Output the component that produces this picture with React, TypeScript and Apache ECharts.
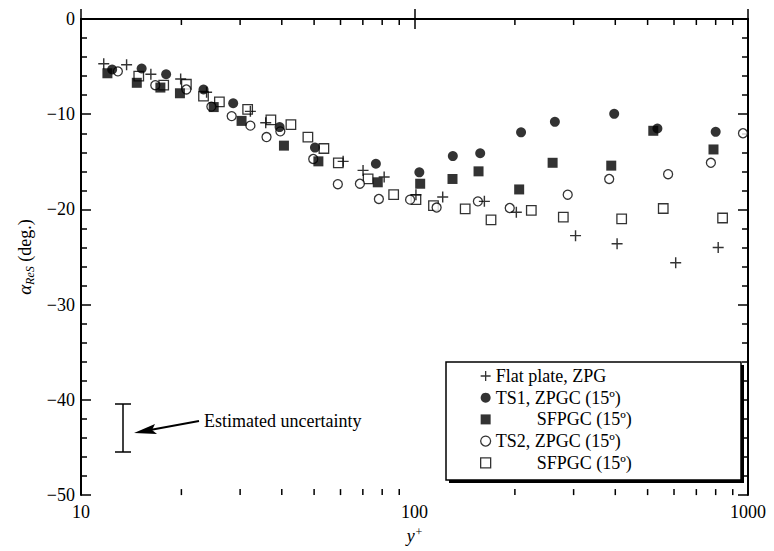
import React, { useEffect, useRef } from 'react';
import * as echarts from 'echarts';

// ---- data (y+ , alpha_ReS in degrees) ----
const flatPlateX = [11.7, 13.7, 16.2, 19.9, 23.8, 32.2, 35.8, 61.1, 70.1, 81.1, 101, 121.5, 162, 202, 304, 405, 607, 814];
const flatPlateY = [-4.7, -4.8, -5.8, -6.3, -7.7, -9.7, -10.9, -14.95, -15.9, -16.6, -18.45, -18.7, -19.15, -20.3, -22.75, -23.6, -25.6, -24.0];

const ts1ZpgcX = [12.4, 15.2, 18.0, 23.3, 28.6, 39.4, 50.3, 76.6, 103.4, 130.3, 157.4, 208.7, 263.6, 397, 535, 800];
const ts1ZpgcY = [-5.3, -5.2, -5.8, -7.4, -8.85, -11.35, -13.5, -15.2, -16.1, -14.4, -14.1, -11.9, -10.8, -9.96, -11.5, -11.85];

const ts1SfpgcX = [12.0, 14.7, 17.3, 19.8, 25.0, 30.3, 40.6, 51.5, 77.6, 104, 130, 155.6, 206, 259.5, 389, 520, 788];
const ts1SfpgcY = [-5.7, -6.7, -7.2, -7.8, -9.25, -10.7, -13.3, -14.95, -17.15, -17.3, -16.8, -16.0, -17.9, -15.1, -15.4, -11.74, -13.7];

const ts2ZpgcX = [12.9, 16.7, 20.7, 24.6, 28.3, 32.2, 36.0, 39.6, 49.7, 58.9, 68.6, 78.2, 97.0, 116.5, 154.9, 193, 288, 383.5, 576, 774, 966];
const ts2ZpgcY = [-5.5, -6.95, -7.4, -9.2, -10.2, -11.2, -12.4, -11.8, -14.7, -17.35, -17.3, -18.9, -18.97, -19.8, -19.15, -19.85, -18.45, -16.8, -16.3, -15.1, -12.0];

const ts2SfpgcX = [14.9, 17.7, 20.7, 23.3, 26.0, 31.6, 37.1, 42.6, 47.9, 53.5, 59.1, 72.6, 86.6, 101, 114, 141.9, 169.6, 224, 279.4, 418, 557, 839];
const ts2SfpgcY = [-6.0, -6.95, -6.85, -8.1, -8.7, -9.5, -10.6, -11.1, -12.4, -13.6, -15.1, -16.8, -18.45, -18.97, -19.6, -19.95, -21.1, -20.1, -20.8, -21.0, -19.9, -20.9];

// axis ticks
const xMin = 10;
const xMax = 1000;
const xMinorTicks = [20, 30, 40, 50, 60, 70, 80, 90, 200, 300, 400, 500, 600, 700, 800, 900];
const yMin = -50;
const yMax = 0;
const yInterval = 10;

const seriesNames = ['Flat plate, ZPG', 'TS1, ZPGC (15º)', 'TS1 SFPGC (15º)', 'TS2, ZPGC (15º)', 'TS2 SFPGC (15º)'];

const FONT = '"Liberation Serif", "Times New Roman", Times, serif';
const PLUS = 'path://M4.35,0H5.65V4.35H10V5.65H5.65V10H4.35V5.65H0V4.35H4.35Z';

export default function App() {
  const ref = useRef<HTMLDivElement>(null);

  useEffect(() => {
    const chart = echarts.init(ref.current as HTMLDivElement, null, { renderer: 'svg' });
    const zip = (xs: number[], ys: number[]) => xs.map((x, i) => [x, ys[i]]);

    const line = { show: true, lineStyle: { color: '#000', width: 2 } };
    const majorTick = { show: true, inside: true, length: 10, lineStyle: { color: '#000', width: 1.5 } };
    const baseX: any = { type: 'log', logBase: 10, min: xMin, max: xMax, splitLine: { show: false }, gridIndex: 0 };
    const baseY: any = {
      type: 'value', min: yMin, max: yMax, interval: yInterval, splitLine: { show: false },
      minorTick: { show: true, splitNumber: 5, length: 6, lineStyle: { color: '#000', width: 1.5 } },
      minorSplitLine: { show: false },
    };

    const markerBlack = { color: '#000' };
    const markerOpen = { color: '#fff', borderColor: '#000', borderWidth: 1.3 };

    const styles: any[] = [
      { symbol: PLUS, size: 11, item: markerBlack },
      { symbol: 'circle', size: 10, item: markerBlack },
      { symbol: 'rect', size: 10, item: markerBlack },
      { symbol: 'circle', size: 9, item: markerOpen },
      { symbol: 'rect', size: 9.5, item: markerOpen },
    ];
    const datasets = [
      zip(flatPlateX, flatPlateY),
      zip(ts1ZpgcX, ts1ZpgcY),
      zip(ts1SfpgcX, ts1SfpgcY),
      zip(ts2ZpgcX, ts2ZpgcY),
      zip(ts2SfpgcX, ts2SfpgcY),
    ];
    const drawOrder = [4, 3, 2, 1, 0];

    const series: any[] = drawOrder.map((i) => ({
      type: 'scatter',
      name: seriesNames[i],
      xAxisIndex: 0,
      yAxisIndex: 0,
      symbol: styles[i].symbol,
      symbolSize: styles[i].size,
      itemStyle: styles[i].item,
      data: datasets[i],
      clip: false,
      z: 3,
    }));

    // minor ticks of the logarithmic x axis (bottom and top), placed through the axis scale
    series.push({
      type: 'custom',
      name: 'xMinorTicks',
      silent: true,
      xAxisIndex: 0,
      yAxisIndex: 0,
      clip: false,
      z: 4,
      data: xMinorTicks.map((v) => [v, yMin]),
      renderItem: (_params: any, api: any) => {
        const v = api.value(0);
        const b = api.coord([v, yMin]);
        const t = api.coord([v, yMax]);
        const st = { stroke: '#000', lineWidth: 1.5 };
        return {
          type: 'group',
          children: [
            { type: 'line', shape: { x1: b[0], y1: b[1], x2: b[0], y2: b[1] - 6 }, style: st },
            { type: 'line', shape: { x1: t[0], y1: t[1], x2: t[0], y2: t[1] + 6 }, style: st },
          ],
        };
      },
    });

    const option: any = {
      animation: false,
      backgroundColor: '#fff',
      grid: { left: 81, right: 26, top: 19, bottom: 55, containLabel: false },
      xAxis: [
        {
          ...baseX, position: 'bottom',
          axisLine: line, axisTick: majorTick,
          axisLabel: {
            show: true, color: '#000', fontFamily: FONT, fontSize: 18, margin: 8,
            formatter: (v: number) => String(Math.round(v)),
          },
          name: '{i|y}{p|+}', nameLocation: 'middle', nameGap: 26,
          nameTextStyle: {
            color: '#000', fontFamily: FONT,
            rich: {
              i: { fontFamily: FONT, fontStyle: 'italic', fontSize: 18, lineHeight: 20, color: '#000' },
              p: { fontFamily: FONT, fontSize: 12, lineHeight: 12, padding: [0, 0, 8, 1], color: '#000' },
            },
          },
        },
        { ...baseX, position: 'top', axisLine: line, axisTick: majorTick, axisLabel: { show: false } },
      ],
      yAxis: [
        {
          ...baseY, position: 'left',
          axisLine: line, axisTick: majorTick,
          axisLabel: {
            show: true, color: '#000', fontFamily: FONT, fontSize: 18, margin: 6,
            formatter: (v: number) => (v < 0 ? '\u2212' + Math.abs(v) : String(v)),
          },
          name: '{a|α}{s|ReS}{n| (deg.)}', nameLocation: 'middle', nameGap: 40,
          nameTextStyle: {
            color: '#000', fontFamily: FONT,
            rich: {
              a: { fontFamily: FONT, fontStyle: 'italic', fontSize: 19, lineHeight: 22, color: '#000' },
              s: { fontFamily: FONT, fontStyle: 'italic', fontSize: 12, lineHeight: 12, padding: [10, 0, 0, 0], color: '#000' },
              n: { fontFamily: FONT, fontSize: 18, lineHeight: 22, color: '#000' },
            },
          },
        },
        { ...baseY, position: 'right', axisLine: line, axisTick: majorTick, axisLabel: { show: false } },
      ],
      legend: {
        show: true,
        orient: 'vertical',
        left: 480,
        top: 366,
        padding: 0,
        itemGap: 1.7,
        itemWidth: 10,
        itemHeight: 10,
        selectedMode: false,
        z: 10,
        data: seriesNames.map((n, i) => ({
          name: n,
          icon: styles[i].symbol,
          itemStyle: styles[i].item,
        })),
        formatter: (name: string) => (name.indexOf(' SFPGC') > 0 ? '{ind|}SFPGC (15º)' : name),
        textStyle: {
          color: '#000', fontFamily: FONT, fontSize: 18, lineHeight: 20,
          rich: {
            ind: { width: 41, fontSize: 18, lineHeight: 20 },
          },
        },
      },
      graphic: [
        // legend frame with hard drop shadow
        { type: 'rect', z: 1, shape: { x: 449, y: 365, width: 295, height: 118 }, style: { fill: '#000' } },
        { type: 'rect', z: 2, shape: { x: 446, y: 362, width: 295, height: 118 }, style: { fill: '#fff', stroke: '#000', lineWidth: 1.5 } },
        // estimated uncertainty bar
        { type: 'line', z: 2, shape: { x1: 123, y1: 404, x2: 123, y2: 452 }, style: { stroke: '#000', lineWidth: 1.5 } },
        { type: 'line', z: 2, shape: { x1: 115, y1: 404, x2: 131, y2: 404 }, style: { stroke: '#000', lineWidth: 1.5 } },
        { type: 'line', z: 2, shape: { x1: 115, y1: 452, x2: 131, y2: 452 }, style: { stroke: '#000', lineWidth: 1.5 } },
        // arrow
        { type: 'line', z: 2, shape: { x1: 199, y1: 421, x2: 150, y2: 430 }, style: { stroke: '#000', lineWidth: 2 } },
        { type: 'polygon', z: 2, shape: { points: [[134, 433], [155, 424], [152, 430], [157, 434]] }, style: { fill: '#000' } },
        {
          type: 'text', z: 2, x: 204, y: 421,
          style: { text: 'Estimated uncertainty', fill: '#000', font: `18px ${FONT}`, verticalAlign: 'middle', align: 'left' },
        },
      ],
      series,
    };

    chart.setOption(option);
    return () => chart.dispose();
  }, []);

  return <div ref={ref} style={{ position: 'absolute', left: 0, top: 0, width: 774, height: 551, background: '#fff' }} />;
}
